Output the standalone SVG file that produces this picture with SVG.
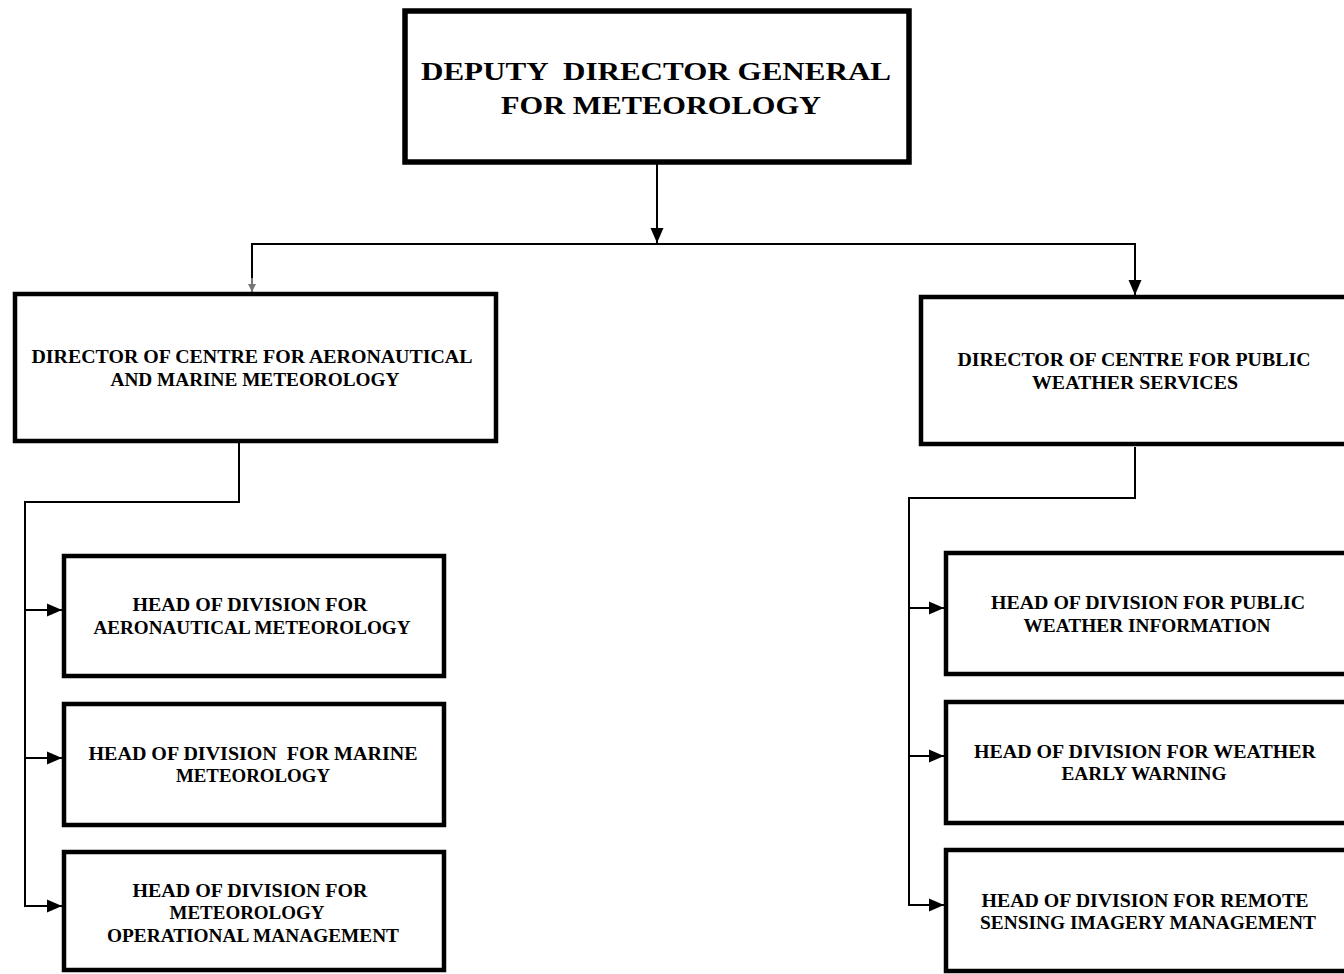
<svg xmlns="http://www.w3.org/2000/svg" width="1344" height="974" viewBox="0 0 1344 974">
<style>
.box{fill:#fff;stroke:#000;stroke-width:4.5}
.t{font-family:"Liberation Serif","DejaVu Serif",serif;font-weight:bold;fill:#000;text-anchor:middle;white-space:pre}
.big{font-size:26px}
.sm{font-size:18px}
.ln{fill:none;stroke:#000;stroke-width:2}
</style>
<defs>
<marker id="ah" markerUnits="userSpaceOnUse" markerWidth="16" markerHeight="16" refX="15" refY="8" orient="auto">
<path d="M0,1.5 L15,8 L0,14.5 z" fill="#000"/>
</marker>
<marker id="ahg" markerUnits="userSpaceOnUse" markerWidth="10" markerHeight="10" refX="8" refY="5" orient="auto">
<path d="M0,1 L8,5 L0,9 z" fill="#777"/>
</marker>
</defs>
<rect width="1344" height="974" fill="#fff"/>
<g id="connectors">
<line class="ln" x1="657" y1="163" x2="657" y2="243" marker-end="url(#ah)"/>
<polyline class="ln" points="252,292 252,244 1135,244 1135,295" marker-end="url(#ah)"/>
<line class="ln" x1="252" y1="278" x2="252" y2="292" marker-end="url(#ahg)" style="stroke:#777"/>
<polyline class="ln" points="239,443 239,502 25,502 25,906"/>
<line class="ln" x1="25" y1="610" x2="62" y2="610" marker-end="url(#ah)"/>
<line class="ln" x1="25" y1="758" x2="62" y2="758" marker-end="url(#ah)"/>
<line class="ln" x1="24" y1="906" x2="62" y2="906" marker-end="url(#ah)"/>
<polyline class="ln" points="1135,447 1135,498 909,498 909,905"/>
<line class="ln" x1="909" y1="608" x2="944" y2="608" marker-end="url(#ah)"/>
<line class="ln" x1="909" y1="756" x2="944" y2="756" marker-end="url(#ah)"/>
<line class="ln" x1="908" y1="905" x2="944" y2="905" marker-end="url(#ah)"/>
</g>
<g id="ddg">
<rect class="box" x="405" y="11" width="504" height="151" style="stroke-width:5.5"/>
<text class="t big" x="656" y="80" textLength="470" lengthAdjust="spacingAndGlyphs" xml:space="preserve">DEPUTY  DIRECTOR GENERAL</text>
<text class="t big" x="661" y="114" textLength="320" lengthAdjust="spacingAndGlyphs">FOR METEOROLOGY</text>
</g>
<g id="dir-aero">
<rect class="box" x="15" y="294" width="481" height="147"/>
<text class="t sm" x="252" y="363" textLength="441" lengthAdjust="spacingAndGlyphs">DIRECTOR OF CENTRE FOR AERONAUTICAL</text>
<text class="t sm" x="255" y="386" textLength="289" lengthAdjust="spacingAndGlyphs">AND MARINE METEOROLOGY</text>
</g>
<g id="dir-public">
<rect class="box" x="921" y="297" width="440" height="147"/>
<text class="t sm" x="1134" y="366" textLength="353" lengthAdjust="spacingAndGlyphs">DIRECTOR OF CENTRE FOR PUBLIC</text>
<text class="t sm" x="1135" y="389" textLength="206" lengthAdjust="spacingAndGlyphs">WEATHER SERVICES</text>
</g>
<g id="head-aero">
<rect class="box" x="64" y="556" width="380" height="120"/>
<text class="t sm" x="250" y="611" textLength="235" lengthAdjust="spacingAndGlyphs">HEAD OF DIVISION FOR</text>
<text class="t sm" x="252" y="634" textLength="317" lengthAdjust="spacingAndGlyphs">AERONAUTICAL METEOROLOGY</text>
</g>
<g id="head-marine">
<rect class="box" x="64" y="704" width="380" height="121"/>
<text class="t sm" x="253" y="760" textLength="329" lengthAdjust="spacingAndGlyphs" xml:space="preserve">HEAD OF DIVISION  FOR MARINE</text>
<text class="t sm" x="253" y="782" textLength="154" lengthAdjust="spacingAndGlyphs">METEOROLOGY</text>
</g>
<g id="head-ops">
<rect class="box" x="64" y="852" width="380" height="118"/>
<text class="t sm" x="250" y="897" textLength="235" lengthAdjust="spacingAndGlyphs">HEAD OF DIVISION FOR</text>
<text class="t sm" x="247" y="919" textLength="155" lengthAdjust="spacingAndGlyphs">METEOROLOGY</text>
<text class="t sm" x="253" y="942" textLength="292" lengthAdjust="spacingAndGlyphs">OPERATIONAL MANAGEMENT</text>
</g>
<g id="head-public">
<rect class="box" x="946" y="553" width="410" height="121"/>
<text class="t sm" x="1148" y="609" textLength="314" lengthAdjust="spacingAndGlyphs">HEAD OF DIVISION FOR PUBLIC</text>
<text class="t sm" x="1147" y="632" textLength="247" lengthAdjust="spacingAndGlyphs">WEATHER INFORMATION</text>
</g>
<g id="head-warning">
<rect class="box" x="946" y="702" width="410" height="121"/>
<text class="t sm" x="1145" y="758" textLength="342" lengthAdjust="spacingAndGlyphs">HEAD OF DIVISION FOR WEATHER</text>
<text class="t sm" x="1144" y="780" textLength="165" lengthAdjust="spacingAndGlyphs">EARLY WARNING</text>
</g>
<g id="head-remote">
<rect class="box" x="946" y="850" width="410" height="121"/>
<text class="t sm" x="1145" y="907" textLength="327" lengthAdjust="spacingAndGlyphs">HEAD OF DIVISION FOR REMOTE</text>
<text class="t sm" x="1148" y="929" textLength="336" lengthAdjust="spacingAndGlyphs">SENSING IMAGERY MANAGEMENT</text>
</g>
</svg>
